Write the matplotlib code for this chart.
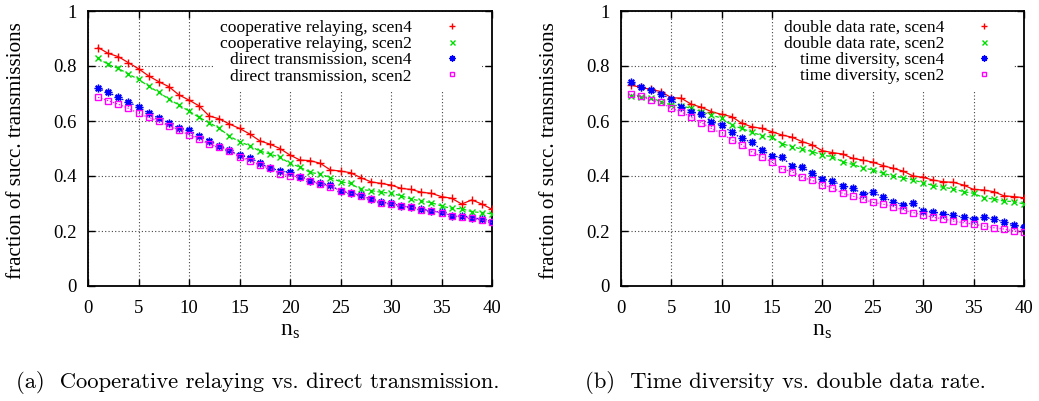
import matplotlib
matplotlib.use("Agg")
import matplotlib.pyplot as plt
from matplotlib.lines import Line2D
import numpy as np

# ---------------- data ----------------
ns = list(range(1, 41))

coop_scen4 = [0.867, 0.846, 0.834, 0.812, 0.790, 0.764, 0.743, 0.725, 0.695, 0.676,
              0.655, 0.618, 0.608, 0.589, 0.573, 0.553, 0.528, 0.516, 0.500, 0.476,
              0.458, 0.456, 0.446, 0.422, 0.418, 0.412, 0.394, 0.379, 0.373, 0.367,
              0.355, 0.351, 0.341, 0.337, 0.325, 0.319, 0.298, 0.313, 0.298, 0.279]
coop_scen2 = [0.828, 0.806, 0.791, 0.771, 0.751, 0.727, 0.704, 0.680, 0.658, 0.636,
              0.613, 0.594, 0.573, 0.545, 0.525, 0.510, 0.491, 0.480, 0.468, 0.446,
              0.432, 0.413, 0.407, 0.394, 0.379, 0.373, 0.351, 0.347, 0.341, 0.337,
              0.328, 0.316, 0.309, 0.303, 0.291, 0.282, 0.281, 0.270, 0.267, 0.262]
direct_scen4 = [0.719, 0.704, 0.686, 0.668, 0.652, 0.628, 0.610, 0.594, 0.573, 0.566,
                0.545, 0.529, 0.509, 0.493, 0.476, 0.467, 0.448, 0.428, 0.420, 0.413,
                0.397, 0.383, 0.373, 0.367, 0.345, 0.337, 0.331, 0.316, 0.304, 0.301,
                0.291, 0.286, 0.279, 0.273, 0.268, 0.256, 0.255, 0.249, 0.243, 0.234]
direct_scen2 = [0.686, 0.674, 0.661, 0.646, 0.628, 0.613, 0.600, 0.582, 0.567, 0.550,
                0.535, 0.515, 0.505, 0.492, 0.470, 0.456, 0.440, 0.428, 0.408, 0.401,
                0.397, 0.383, 0.370, 0.361, 0.347, 0.337, 0.328, 0.316, 0.302, 0.298,
                0.291, 0.286, 0.276, 0.273, 0.267, 0.256, 0.252, 0.246, 0.240, 0.231]

ddr_scen4 = [0.731, 0.722, 0.715, 0.707, 0.685, 0.683, 0.661, 0.650, 0.634, 0.624,
             0.616, 0.592, 0.579, 0.573, 0.561, 0.549, 0.541, 0.525, 0.513, 0.492,
             0.485, 0.480, 0.464, 0.458, 0.450, 0.438, 0.428, 0.418, 0.400, 0.395,
             0.385, 0.379, 0.377, 0.367, 0.351, 0.349, 0.343, 0.328, 0.325, 0.321]
ddr_scen2 = [0.691, 0.688, 0.685, 0.670, 0.658, 0.655, 0.646, 0.634, 0.622, 0.610,
             0.585, 0.573, 0.559, 0.547, 0.541, 0.517, 0.507, 0.497, 0.489, 0.476,
             0.470, 0.452, 0.442, 0.430, 0.422, 0.410, 0.400, 0.394, 0.385, 0.376,
             0.365, 0.359, 0.353, 0.343, 0.337, 0.321, 0.316, 0.309, 0.307, 0.298]
td_scen4 = [0.743, 0.722, 0.713, 0.698, 0.680, 0.652, 0.634, 0.624, 0.598, 0.585,
            0.559, 0.537, 0.522, 0.495, 0.473, 0.468, 0.436, 0.432, 0.410, 0.388,
            0.382, 0.364, 0.358, 0.333, 0.341, 0.323, 0.307, 0.295, 0.301, 0.274,
            0.270, 0.262, 0.258, 0.250, 0.244, 0.250, 0.243, 0.234, 0.222, 0.213]
td_scen2 = [0.697, 0.691, 0.676, 0.668, 0.646, 0.634, 0.613, 0.594, 0.573, 0.555,
            0.532, 0.514, 0.488, 0.470, 0.450, 0.425, 0.416, 0.395, 0.384, 0.367,
            0.358, 0.337, 0.327, 0.316, 0.304, 0.298, 0.289, 0.276, 0.267, 0.258,
            0.250, 0.244, 0.236, 0.230, 0.225, 0.218, 0.212, 0.207, 0.200, 0.197]

labels_a = ["cooperative relaying, scen4", "cooperative relaying, scen2",
            "direct transmission, scen4", "direct transmission, scen2"]
labels_b = ["double data rate, scen4", "double data rate, scen2",
            "time diversity, scen4", "time diversity, scen2"]
xticks = [0, 5, 10, 15, 20, 25, 30, 35, 40]
yticks = [0, 0.2, 0.4, 0.6, 0.8, 1]
ytick_labels = ["0", "0.2", "0.4", "0.6", "0.8", "1"]
captions = ["(a)  Cooperative relaying vs. direct transmission.",
            "(b)  Time diversity vs. double data rate."]

# ---------------- style ----------------
SERIF = ["Liberation Serif", "DejaVu Serif"]
plt.rcParams["font.family"] = SERIF
plt.rcParams["mathtext.fontset"] = "custom"
plt.rcParams["mathtext.rm"] = "Liberation Serif"

W, H = 1039, 401
fig = plt.figure(figsize=(W / 100, H / 100), dpi=100)

colors = ["#ff0000", "#00dd00", "#0000ff", "#ff00ff"]
markers = ["+", "x", (8, 2, 0), "s"]
msizes = [5.5, 4.5, 5.5, 4.2]
lstyles = ["-", (0, (3, 2)), (0, (1.2, 1.8)), (0, (1, 1.5))]


def ax_rect(x0, x1, y0=11, y1=286):
    return [x0 / W, (H - y1) / H, (x1 - x0) / W, (y1 - y0) / H]


def draw(ax, series, labels):
    for s, c, m, ms, ls in zip(series, colors, markers, msizes, lstyles):
        kw = dict(color=c, marker=m, markersize=ms, linestyle=ls, linewidth=0.9,
                  markeredgewidth=1.0)
        if m == "s":
            kw["markerfacecolor"] = "none"
        ax.plot(ns, s, **kw, zorder=3)
    ax.set_xlim(0, 40)
    ax.set_ylim(0, 1)
    ax.set_xticks(xticks)
    ax.set_yticks(yticks)
    ax.set_yticklabels(ytick_labels)
    ax.tick_params(direction="in", top=True, right=True, length=5, width=1,
                   labelsize=13.5, pad=8)
    ax.tick_params(axis="x", pad=10)
    ax.grid(True, color="#444444", linestyle=(0, (1, 2)), linewidth=0.8, zorder=0)
    ax.set_axisbelow(True)
    for sp in ax.spines.values():
        sp.set_linewidth(1.3)
    handles = []
    for c, m, ms in zip(colors, markers, msizes):
        kw = dict(color=c, marker=m, markersize=ms * 0.8, linestyle="none",
                  markeredgewidth=1.0)
        if m == "s":
            kw["markerfacecolor"] = "none"
        handles.append(Line2D([], [], **kw))
    leg = ax.legend(handles, labels, loc="upper right",
                    bbox_to_anchor=(0.975, 0.995), borderaxespad=0,
                    markerfirst=False, fontsize=12.6, frameon=True,
                    framealpha=1, facecolor="white", edgecolor="none",
                    fancybox=False, handlelength=2.6, handletextpad=1.0,
                    borderpad=0.4, labelspacing=0.0)
    leg.set_zorder(2)


ax1 = fig.add_axes(ax_rect(88, 492))
draw(ax1, [coop_scen4, coop_scen2, direct_scen4, direct_scen2], labels_a)
ax2 = fig.add_axes(ax_rect(620.7, 1024))
draw(ax2, [ddr_scen4, ddr_scen2, td_scen4, td_scen2], labels_b)

# y labels
for xc in (17, 549):
    fig.text(xc / W, 1 - 151 / H, "fraction of succ. transmissions",
             rotation=90, ha="center", va="center", fontsize=15.2)
# x labels
for xc in (290, 822):
    fig.text(xc / W, 1 - 330 / H, r"$\mathregular{n_s}$",
             ha="center", va="center", fontsize=17)
# captions
for xc, cap in zip((258, 785), captions):
    fig.text(xc / W, 1 - 382 / H, cap, ha="center", va="center",
             fontsize=16.3, family=["cmr10", "DejaVu Serif"])

fig.savefig("out.png", dpi=100)
